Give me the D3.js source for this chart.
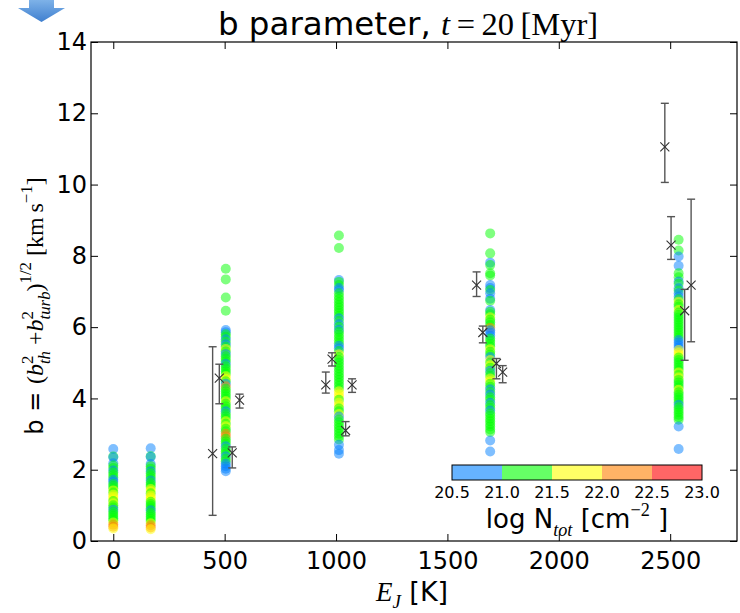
<!DOCTYPE html>
<html><head><meta charset="utf-8">
<script src="https://cdn.jsdelivr.net/npm/d3@7"></script>
<style>body{margin:0;background:#fff}svg text{white-space:pre}</style>
</head><body>
<svg id="c" width="740" height="613"></svg>
<script>
// ---------- DATA ----------
const xTicks = [0, 500, 1000, 1500, 2000, 2500];
const yTicks = [0, 2, 4, 6, 8, 10, 12, 14];
const cbarTicks = [20.5, 21.0, 21.5, 22.0, 22.5, 23.0];
const cbarColors = ["#0080ff", "#00ff00", "#ffff00", "#ff8000", "#ff0000"];

// columns: [b, logN]
const col0 = [[2.58,20.8],[2.37,21.2],[2.35,20.8],[2.18,20.8],[2.12,21.2],[2.05,21.2],[1.98,20.8],[1.92,21.2],[1.85,21.3],[1.78,21.2],[1.72,20.9],[1.66,20.8],[1.60,21.2],[1.54,21.1],[1.48,21.3],[1.42,21.6],[1.36,21.2],[1.30,21.7],[1.24,21.8],[1.18,21.6],[1.12,21.3],[1.06,21.7],[1.00,21.2],[0.94,21.1],[0.88,20.9],[0.82,21.2],[0.76,21.3],[0.70,21.2],[0.64,21.1],[0.58,21.4],[0.52,21.7],[0.46,22.1],[0.40,22.2],[0.35,21.8]];
const col168 = [[2.60,20.8],[2.38,21.2],[2.36,20.8],[2.16,20.8],[2.10,21.2],[2.03,21.2],[1.96,20.8],[1.90,21.2],[1.83,21.2],[1.77,21.3],[1.70,20.8],[1.64,21.2],[1.58,21.2],[1.52,21.1],[1.46,21.6],[1.40,21.7],[1.34,21.2],[1.28,21.7],[1.22,21.8],[1.16,21.6],[1.10,21.2],[1.04,21.3],[0.98,21.2],[0.92,21.2],[0.86,20.8],[0.80,21.2],[0.74,21.2],[0.68,21.3],[0.62,21.2],[0.56,21.2],[0.50,21.8],[0.44,22.1],[0.38,22.2],[0.33,21.9]];
const col505 = [[7.64,21.2],[7.34,21.2],[6.83,21.2],[6.46,21.2],[5.92,20.8],[5.86,20.8],[5.80,21.2],[5.73,21.2],[5.66,20.8],[5.59,21.2],[5.52,20.9],[5.45,21.2],[5.39,21.7],[5.32,21.2],[5.25,20.8],[5.18,21.2],[5.11,21.3],[5.04,21.2],[4.97,20.8],[4.90,21.2],[4.83,21.1],[4.76,21.2],[4.69,21.3],[4.62,21.6],[4.55,21.7],[4.48,21.2],[4.41,20.8],[4.34,22.1],[4.27,21.2],[4.20,21.3],[4.13,21.2],[4.06,21.4],[3.99,21.2],[3.92,21.7],[3.85,21.2],[3.78,21.1],[3.71,21.2],[3.64,20.8],[3.57,21.2],[3.50,21.3],[3.43,21.2],[3.36,21.6],[3.29,21.2],[3.22,21.7],[3.15,21.2],[3.08,21.3],[3.01,22.2],[2.94,22.1],[2.87,21.2],[2.80,21.2],[2.73,21.4],[2.66,20.8],[2.59,21.2],[2.52,21.1],[2.45,21.2],[2.38,20.8],[2.31,21.2],[2.24,21.2],[2.17,20.9],[2.10,20.8],[2.03,20.8],[1.96,20.8]];
const col1013 = [[8.57,21.2],[8.22,21.2],[7.32,20.8],[7.27,21.2],[7.18,21.2],[7.10,20.8],[7.04,20.8],[6.95,21.2],[6.86,21.2],[6.78,21.3],[6.70,21.2],[6.62,21.2],[6.55,21.1],[6.47,21.2],[6.40,21.2],[6.32,21.4],[6.25,20.8],[6.17,21.2],[6.08,20.9],[6.01,21.2],[5.93,20.8],[5.87,21.2],[5.79,21.2],[5.71,21.3],[5.63,21.2],[5.55,21.2],[5.48,20.8],[5.41,20.8],[5.33,21.2],[5.24,21.7],[5.16,21.2],[5.08,21.2],[5.00,21.3],[4.92,21.2],[4.84,21.1],[4.76,21.2],[4.68,21.2],[4.60,21.3],[4.52,21.2],[4.44,21.2],[4.36,21.4],[4.28,21.2],[4.20,21.6],[4.12,21.7],[4.04,21.6],[3.96,21.2],[3.88,21.8],[3.80,21.7],[3.72,21.2],[3.64,21.2],[3.56,21.6],[3.49,20.8],[3.41,21.2],[3.33,21.2],[3.25,21.3],[3.17,21.2],[3.09,21.2],[3.01,21.2],[2.93,21.1],[2.85,21.2],[2.70,20.8],[2.55,20.8],[2.45,20.8]];
const col1692 = [[8.63,21.2],[8.07,21.2],[7.81,20.8],[7.74,21.2],[7.51,21.2],[7.45,21.2],[7.18,20.8],[7.10,20.8],[7.04,21.2],[6.95,20.8],[6.80,20.8],[6.74,21.2],[6.48,20.8],[6.43,21.2],[6.36,21.2],[6.28,21.6],[6.21,21.2],[6.14,21.3],[6.06,21.2],[5.98,22.2],[5.91,20.8],[5.84,20.8],[5.76,20.8],[5.68,21.2],[5.61,21.2],[5.53,21.3],[5.46,21.2],[5.38,21.7],[5.31,21.2],[5.23,21.2],[5.16,20.8],[5.08,21.7],[5.01,21.2],[4.93,21.8],[4.86,21.2],[4.78,20.8],[4.71,21.2],[4.63,21.2],[4.56,21.7],[4.48,21.8],[4.41,21.2],[4.33,21.2],[4.26,20.8],[4.18,21.2],[4.11,20.8],[4.03,21.2],[3.96,21.3],[3.88,20.8],[3.81,21.2],[3.73,21.2],[3.66,20.8],[3.58,21.2],[3.51,21.2],[3.43,21.3],[3.36,21.2],[3.28,21.2],[3.21,21.2],[3.13,21.2],[3.06,21.2],[2.82,20.8],[2.51,20.8]];
const col2538 = [[8.45,21.2],[8.15,21.2],[7.98,20.8],[7.72,20.8],[7.51,21.2],[7.40,21.2],[7.28,20.8],[7.22,21.2],[7.09,20.8],[7.03,21.2],[6.95,20.8],[6.86,20.8],[6.78,21.2],[6.71,21.7],[6.64,21.2],[6.57,21.2],[6.48,21.7],[6.41,21.2],[6.34,21.2],[6.27,21.3],[6.20,21.2],[6.13,21.2],[6.06,21.4],[5.99,21.2],[5.92,21.2],[5.85,21.3],[5.78,21.2],[5.71,21.2],[5.64,20.8],[5.57,20.8],[5.50,20.8],[5.43,20.8],[5.36,21.8],[5.29,21.7],[5.22,21.7],[5.15,21.2],[5.08,21.2],[5.01,21.2],[4.94,21.3],[4.87,21.2],[4.80,21.2],[4.73,21.6],[4.66,21.2],[4.59,21.7],[4.52,21.2],[4.45,21.2],[4.38,21.3],[4.31,21.2],[4.24,21.7],[4.17,21.2],[4.10,21.2],[4.03,21.2],[3.96,21.3],[3.89,21.2],[3.82,20.8],[3.75,21.2],[3.68,21.2],[3.61,21.2],[3.54,21.3],[3.47,21.2],[3.40,21.2],[3.21,20.8],[2.58,20.8]];
const columnE = [0, 168, 505, 1013, 1692, 2538];
const columns = [col0, col168, col505, col1013, col1692, col2538];

// error bars: [E, b, low, high]
const errE = [446, 476, 534, 567, 954, 982, 1043, 1072, 1631, 1659, 1720, 1748, 2476, 2504, 2565, 2594];
const errB = [2.45, 4.57, 2.47, 3.95, 4.38, 5.10, 3.10, 4.38, 7.18, 5.85, 4.98, 4.74, 11.06, 8.30, 6.46, 7.18];
const errLo = [0.72, 3.85, 2.05, 3.73, 4.15, 4.91, 2.95, 4.17, 6.86, 5.56, 4.55, 4.44, 10.06, 7.90, 5.07, 5.59];
const errHi = [5.45, 4.96, 2.64, 4.12, 4.74, 5.28, 3.35, 4.55, 7.55, 6.03, 5.12, 4.92, 12.28, 9.10, 7.06, 9.59];

// ---------- DRAW ----------
const SANS = "DejaVu Sans";
const SERIF = "Liberation Serif";
const svg = d3.select("#c");
const L = 91, R = 737, T = 42, B = 541;
const x = d3.scaleLinear().domain([-100, 2800]).range([L, R]);
const y = d3.scaleLinear().domain([0, 14]).range([B, T]);
const color = d3.scaleThreshold().domain([21, 21.5, 22, 22.5]).range(cbarColors);

// blue arrow (decoration)
const defs = svg.append("defs");
const grad = defs.append("linearGradient").attr("id", "ag").attr("x1", 0).attr("y1", 0).attr("x2", 0).attr("y2", 1);
grad.append("stop").attr("offset", "0").attr("stop-color", "#7eb2e8");
grad.append("stop").attr("offset", "1").attr("stop-color", "#3f7fcf");
svg.append("polygon").attr("points", "29,0 54,0 54,8 65,8 41.5,22 18,8 29,8").attr("fill", "url(#ag)");

// scatter
const pts = [];
columns.forEach((c, i) => c.forEach(d => pts.push({e: columnE[i], b: d[0], n: d[1]})));
svg.append("g").selectAll("circle").data(pts).join("circle")
  .attr("cx", d => x(d.e)).attr("cy", d => y(d.b)).attr("r", 5)
  .attr("fill", d => color(d.n)).attr("fill-opacity", 0.5);

// error bars
const eb = svg.append("g").attr("stroke", "#555").attr("stroke-width", 1.4).attr("fill", "none");
errE.forEach((e, i) => {
  const cx = x(e);
  eb.append("line").attr("x1", cx).attr("x2", cx).attr("y1", y(errLo[i])).attr("y2", y(errHi[i]));
  eb.append("line").attr("x1", cx - 4).attr("x2", cx + 4).attr("y1", y(errLo[i])).attr("y2", y(errLo[i]));
  eb.append("line").attr("x1", cx - 4).attr("x2", cx + 4).attr("y1", y(errHi[i])).attr("y2", y(errHi[i]));
  const cy = y(errB[i]);
  eb.append("path").attr("d", `M${cx-4.5},${cy-4.5}L${cx+4.5},${cy+4.5}M${cx-4.5},${cy+4.5}L${cx+4.5},${cy-4.5}`).attr("stroke", "#333").attr("stroke-width", 1.1);
});

// axes
const ax = svg.append("g").attr("font-family", SANS);
const gb = ax.append("g").attr("transform", `translate(0,${B})`)
  .call(d3.axisBottom(x).tickValues(xTicks).tickSize(-7).tickPadding(11).tickFormat(d3.format("d")));
const gl = ax.append("g").attr("transform", `translate(${L},0)`)
  .call(d3.axisLeft(y).tickValues(yTicks).tickSize(-7).tickPadding(4).tickFormat(d3.format("d")));
const gt = ax.append("g").attr("transform", `translate(0,${T})`)
  .call(d3.axisTop(x).tickValues(xTicks).tickSize(-7).tickFormat(""));
const gr = ax.append("g").attr("transform", `translate(${R},0)`)
  .call(d3.axisRight(y).tickValues(yTicks).tickSize(-7).tickFormat(""));
[gb, gl, gt, gr].forEach(g => {
  g.select(".domain").remove();
  g.selectAll("line").attr("stroke", "#000").attr("stroke-width", 1);
  g.selectAll("text").attr("font-size", 24).attr("font-family", SANS).attr("fill", "#000");
});
svg.append("rect").attr("x", L).attr("y", T).attr("width", R - L).attr("height", B - T)
  .attr("fill", "none").attr("stroke", "#000").attr("stroke-width", 1.2);

// rich text helper
function rich(g, parts, size) {
  let xx = 0, lastX = 0, lastW = 0;
  parts.forEach(p => {
    const fs = size * (p.s || 1);
    const t = g.append("text")
      .attr("font-family", p.f === "serif" ? SERIF : SANS)
      .attr("font-size", fs)
      .attr("font-style", p.it ? "italic" : "normal")
      .attr("y", (p.dy || 0) * size).text(p.t);
    const x0 = p.stack ? lastX : xx;
    t.attr("x", x0);
    const w = t.node().getComputedTextLength();
    if (p.stack) { xx = Math.max(lastX + lastW, x0 + w); }
    else { lastX = x0; lastW = w; xx = x0 + w; }
  });
  return xx;
}
function centered(parent, parts, size, tx, ty, rot) {
  const outer = parent.append("g").attr("transform", `translate(${tx},${ty})` + (rot ? ` rotate(${rot})` : ""));
  const inner = outer.append("g");
  const w = rich(inner, parts, size);
  inner.attr("transform", `translate(${-w / 2},0)`);
  return outer;
}

// title
centered(svg, [
  {t: "b parameter, "},
  {t: "t", f: "serif", it: true},
  {t: "\u2009=\u200920\u2009[Myr]", f: "serif"}
], 32.5, 408, 35);

// y label
centered(svg, [
  {t: "b = "},
  {t: "(", f: "serif"},
  {t: "b", f: "serif", it: true},
  {t: "2", f: "serif", s: 0.7, dy: -0.42},
  {t: "th", f: "serif", it: true, s: 0.7, dy: 0.28, stack: true},
  {t: " +", f: "serif"},
  {t: "b", f: "serif", it: true},
  {t: "2", f: "serif", s: 0.7, dy: -0.42},
  {t: "turb", f: "serif", it: true, s: 0.7, dy: 0.28, stack: true},
  {t: ")", f: "serif"},
  {t: "1/2", f: "serif", s: 0.7, dy: -0.5},
  {t: " [km\u2009s", f: "serif"},
  {t: "\u22121", f: "serif", s: 0.7, dy: -0.45},
  {t: "]", f: "serif"}
], 24, 43, 306, -90);

// x label
centered(svg, [
  {t: "E", f: "serif", it: true},
  {t: "J", f: "serif", it: true, s: 0.7, dy: 0.25},
  {t: " [K]"}
], 27, 412, 601);

// colorbar
const cbX = d3.scaleLinear().domain([20.5, 23.0]).range([452, 702]);
const cb = svg.append("g");
cb.selectAll("rect.seg").data(cbarColors).join("rect")
  .attr("x", (d, i) => cbX(cbarTicks[i])).attr("y", 465)
  .attr("width", (d, i) => cbX(cbarTicks[i + 1]) - cbX(cbarTicks[i])).attr("height", 15)
  .attr("fill", d => d).attr("fill-opacity", 0.6);
cb.append("rect").attr("x", 452).attr("y", 465).attr("width", 250).attr("height", 15)
  .attr("fill", "none").attr("stroke", "#000").attr("stroke-width", 1);
cb.selectAll("text.tk").data(cbarTicks).join("text")
  .attr("x", d => cbX(d)).attr("y", 498).attr("text-anchor", "middle")
  .attr("font-family", SANS).attr("font-size", 16).text(d => d.toFixed(1));
centered(svg, [
  {t: "log N"},
  {t: "tot", f: "serif", it: true, s: 0.7, dy: 0.3},
  {t: " [cm"},
  {t: "\u22122", f: "serif", s: 0.7, dy: -0.45},
  {t: " ]"}
], 26, 577, 528);
</script>
</body></html>
